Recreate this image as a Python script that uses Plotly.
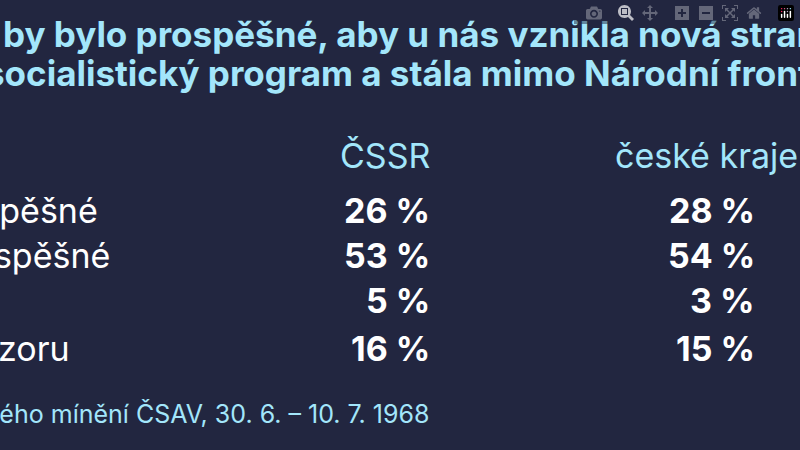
import plotly.graph_objects as go

columns = ["ČSSR", "české kraje"]
categories = ["Prospěšné", "Neprospěšné", "Jiná odpověď", "Bez názoru"]
cssr = [26, 53, 5, 16]
ceske = [28, 54, 3, 15]
source = "Zdroj: Ústav pro výzkum veřejného mínění ČSAV, 30. 6. – 10. 7. 1968"

BG = "#222640"
CYAN = "#a3e6fb"
W, H = 800, 450
FONT = "Inter"

def px(x): return x / W
def py(y): return 1 - y / H

fig = go.Figure()
ann = []
ann.append(dict(x=px(1), y=py(34), text="by bylo prospěšné, aby u nás vznikla nová strana, která", xanchor="left",
                font=dict(size=35, color=CYAN, family=FONT, weight="bold")))
ann.append(dict(x=px(-17), y=py(73), text="socialistický program a stála mimo Národní frontu?", xanchor="left",
                font=dict(size=35, color=CYAN, family=FONT, weight="bold")))
ann.append(dict(x=px(432), y=py(155), text=columns[0], xanchor="right",
                font=dict(size=34, color=CYAN, family=FONT)))
ann.append(dict(x=px(613), y=py(155), text=columns[1], xanchor="left",
                font=dict(size=34, color=CYAN, family=FONT)))
rows_y = [210, 255, 300, 348]
label_end = [100, 112, -10, 72]
for cat, a, b, y, le in zip(categories, cssr, ceske, rows_y, label_end):
    ann.append(dict(x=px(le), y=py(y), text=cat, xanchor="right",
                    font=dict(size=34, color="white", family=FONT)))
    ann.append(dict(x=px(432), y=py(y), text=f"<b>{a} %</b>", xanchor="right",
                    font=dict(size=34, color="white", family=FONT)))
    ann.append(dict(x=px(757), y=py(y), text=f"<b>{b} %</b>", xanchor="right",
                    font=dict(size=34, color="white", family=FONT)))
ann.append(dict(x=px(432), y=py(413), text=source, xanchor="right",
                font=dict(size=25, color=CYAN, family=FONT)))
for a in ann:
    a.update(xref="paper", yref="paper", showarrow=False, yanchor="middle")

fig.update_layout(width=W, height=H, margin=dict(l=0, r=0, t=0, b=0),
                  paper_bgcolor=BG, plot_bgcolor=BG, annotations=ann,
                  xaxis=dict(visible=False), yaxis=dict(visible=False))
fig.write_html("out.html",
               post_script="document.body.style.margin='0';document.body.style.background='#222640';")
